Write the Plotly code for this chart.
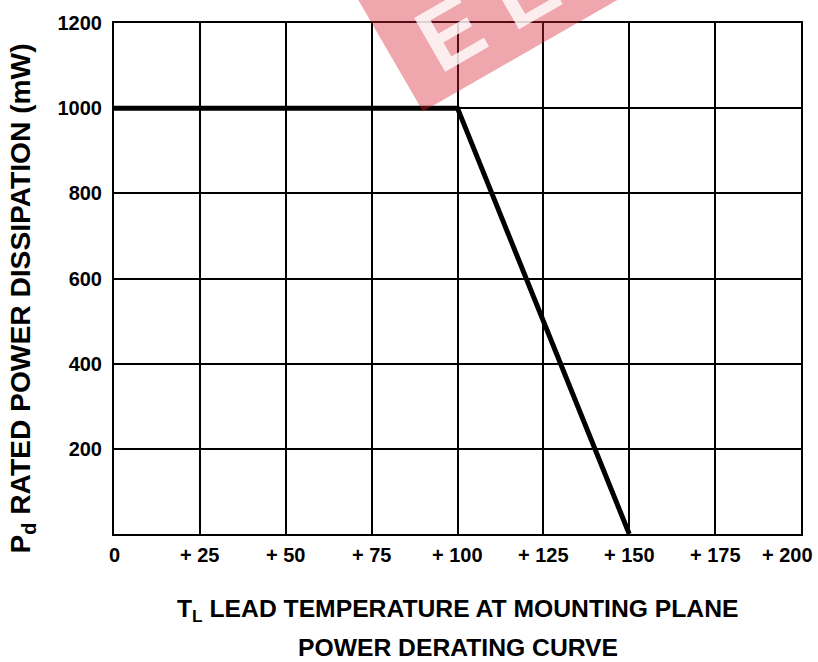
import plotly.graph_objects as go

# Data
temp_c = [0, 100, 150]
power_mw = [1000, 1000, 0]

x_tick_vals = [0, 25, 50, 75, 100, 125, 150, 175, 200]
x_tick_text = ["0", "+ 25", "+ 50", "+ 75", "+ 100", "+ 125", "+ 150", "+ 175", "+ 200"]
y_tick_vals = [200, 400, 600, 800, 1000, 1200]
y_tick_text = ["200", "400", "600", "800", "1000", "1200"]

FONT = "Liberation Sans, Arial, Helvetica, sans-serif"

fig = go.Figure()
fig.add_trace(go.Scatter(
    x=temp_c, y=power_mw, mode="lines",
    line=dict(color="black", width=5), showlegend=False, hoverinfo="skip"))

fig.update_layout(
    width=818, height=662,
    margin=dict(l=114, r=17, t=20, b=128),
    paper_bgcolor="white", plot_bgcolor="white",
    font=dict(family=FONT, color="black"),
    xaxis=dict(range=[0, 200], tickvals=x_tick_vals, ticktext=[""] * len(x_tick_vals),
               showgrid=True, gridcolor="black", gridwidth=2,
               showline=True, linecolor="black", linewidth=2, mirror=True,
               zeroline=False, fixedrange=True),
    yaxis=dict(range=[0, 1200], tickvals=y_tick_vals, ticktext=y_tick_text,
               tickfont=dict(size=20, family=FONT, weight=700),
               ticklabelstandoff=6,
               showgrid=True, gridcolor="black", gridwidth=2,
               showline=True, linecolor="black", linewidth=2, mirror=True,
               zeroline=False, fixedrange=True),
)

# x tick labels
annots = []
for i, (v, t) in enumerate(zip(x_tick_vals, x_tick_text)):
    last = i == len(x_tick_vals) - 1
    annots.append(dict(
        x=v, y=0, xref="x", yref="y", text=t, showarrow=False,
        xanchor="right" if last else "center", yanchor="middle",
        xshift=14 if last else 0, yshift=-21,
        font=dict(size=20, family=FONT, weight=700, color="black")))

# axis titles
annots.append(dict(
    x=0.5, y=-0.1498, xref="paper", yref="paper",
    text="T<sub>L</sub> LEAD TEMPERATURE AT MOUNTING PLANE",
    showarrow=False, xanchor="center", yanchor="middle",
    font=dict(size=24.7, family=FONT, weight=700, color="black")))
annots.append(dict(
    x=0.5, y=-0.222, xref="paper", yref="paper",
    text="POWER DERATING CURVE",
    showarrow=False, xanchor="center", yanchor="middle",
    font=dict(size=24.7, family=FONT, weight=700, color="black")))
annots.append(dict(
    x=-0.1339, y=0.461, xref="paper", yref="paper",
    text="P<sub>d</sub> RATED POWER DISSIPATION (mW)",
    showarrow=False, textangle=-90, xanchor="center", yanchor="middle",
    font=dict(size=28.2, family=FONT, weight=700, color="black")))

# watermark (decorative): rotated red band with white letters
fig.add_shape(type="path", xref="paper", yref="paper", layer="above",
              path="M 0.4498 0.8269 L 0.8282 1.1187 L 0.7191 1.3716 L 0.3406 1.0798 Z",
              fillcolor="rgba(215,35,50,0.4)", line=dict(width=0))
annots.append(dict(
    x=(487 - 114) / 687, y=(534 - 9) / 514, xref="paper", yref="paper",
    text="E E", showarrow=False, textangle=-30,
    xanchor="center", yanchor="middle",
    font=dict(size=90, family=FONT, weight=700, color="rgba(255,255,255,0.8)")))

fig.update_layout(annotations=annots)
fig.write_html("out.html", config={"displayModeBar": False},
               post_script="document.body.style.margin='0';document.body.style.overflow='hidden';")
